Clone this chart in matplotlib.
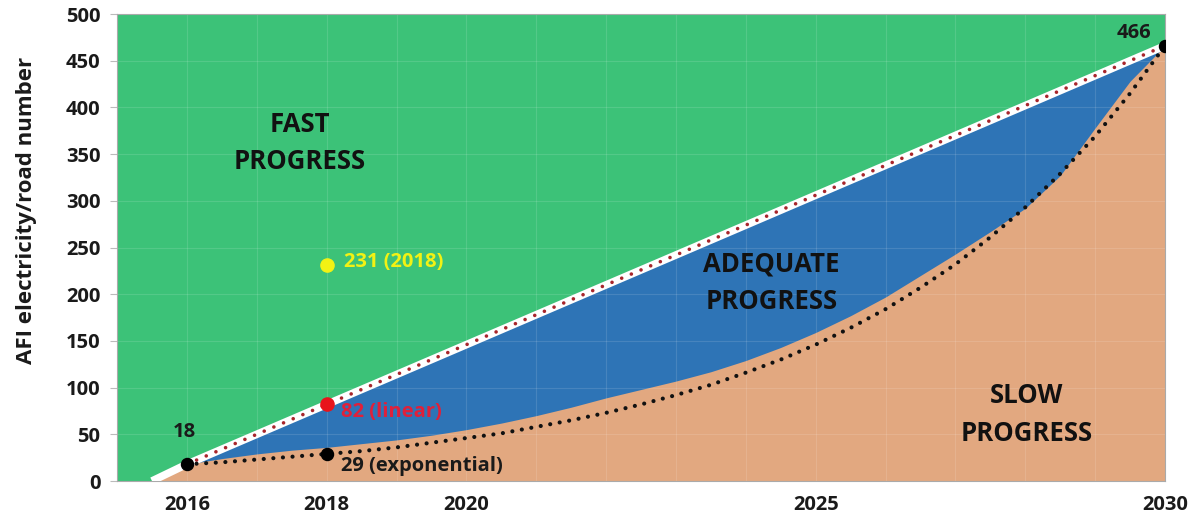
import matplotlib.pyplot as plt

# values (half-year steps)
years = [2016, 2016.5, 2017, 2017.5, 2018, 2018.5, 2019, 2019.5, 2020, 2020.5,
         2021, 2021.5, 2022, 2022.5, 2023, 2023.5, 2024, 2024.5, 2025, 2025.5,
         2026, 2026.5, 2027, 2027.5, 2028, 2028.5, 2029, 2029.5, 2030]
exponential = [18, 20, 23, 26, 29, 32, 36, 41, 46, 51,
               58, 65, 73, 82, 92, 103, 116, 130, 146, 164,
               184, 207, 232, 261, 293, 329, 369, 415, 466]
adequate_low = [18, 24, 29, 33, 36, 40, 44, 49, 55, 62,
                70, 79, 89, 98, 107, 117, 129, 143, 159, 177,
                197, 220, 243, 267, 292, 327, 378, 428, 466]

linear_years = [2015.5, 2016, 2018, 2030]
linear = [0, 18, 82, 466]

actual_year = 2018
actual_value = 231

tick_years = [2016, 2018, 2020, 2025, 2030]
y_ticks = list(range(0, 501, 50))

green = "#3CC278"
blue = "#2E74B6"
beige = "#E2A880"

plt.rcParams["font.family"] = ["Open Sans", "DejaVu Sans"]

fig = plt.figure(figsize=(12.03, 5.19), dpi=100)
ax = fig.add_axes([0.0973, 0.0732, 0.8711, 0.8998])
ax.set_facecolor(green)

# slow region below the linear line, adequate between the curves
ax.fill_between(linear_years, 0, linear, color=beige, lw=0, zorder=1)
lin_at_years = [18 + (466 - 18) * (y - 2016) / 14 for y in years]
ax.fill_between(years, adequate_low, lin_at_years, color=blue, lw=0, zorder=1.2)

# white band + dotted trend lines
ax.plot(linear_years, linear, color="white", lw=5.5, solid_capstyle="butt", zorder=3)
ax.plot(linear_years[1:], linear[1:], color="#A8262C", lw=2.6, ls=(0, (0.01, 2.9)),
        dash_capstyle="round", zorder=4)
ax.plot(years, exponential, color="#111111", lw=3.0, ls=(0, (0.01, 2.3)),
        dash_capstyle="round", zorder=4)

# markers
ax.scatter([2016, 2018, 2030], [18, 29, 466], s=75, color="black", zorder=5)
ax.scatter([2018], [82], s=90, color="#E8141B", zorder=5)
ax.scatter([actual_year], [actual_value], s=90, color="#F2F214", zorder=5)

txt = dict(fontsize=14.5, fontweight="bold")
ax.text(2018.25, 234, "231 (2018)", color="#F2F214", va="center", **txt)
ax.text(2018.2, 74, "82 (linear)", color="#E0203A", va="center", **txt)
ax.text(2018.2, 16, "29 (exponential)", color="#1a1a1a", va="center", **txt)
ax.text(2015.97, 52, "18", color="#1a1a1a", ha="center", va="center", **txt)
ax.text(2029.55, 480, "466", color="#1a1a1a", ha="center", va="center", **txt)

big = dict(fontsize=18.5, fontweight="bold", color="#111111", ha="center",
           va="center", linespacing=1.5)
ax.text(2017.62, 362, "FAST\nPROGRESS", **big)
ax.text(2024.37, 212, "ADEQUATE\nPROGRESS", **big)
ax.text(2028.02, 71, "SLOW\nPROGRESS", **big)

ax.set_xlim(2015, 2030)
ax.set_ylim(0, 500)
ax.set_xticks(range(2015, 2031), minor=True)
ax.set_xticks(tick_years)
ax.set_xticklabels([str(y) for y in tick_years])
ax.set_yticks(y_ticks)
ax.grid(True, which="both", color="white", alpha=0.12, lw=0.8)
ax.tick_params(axis="x", which="both", length=0, pad=10)
ax.tick_params(axis="y", length=5, color="#BBBBBB", pad=7)
for lab in ax.get_xticklabels() + ax.get_yticklabels():
    lab.set_fontsize(14.5)
    lab.set_fontweight("bold")
    lab.set_color("#1a1a1a")

for s in ax.spines.values():
    s.set_color("#AAAAAA")

ax.set_ylabel("AFI electricity/road number", fontsize=16, fontweight="bold",
              color="#1a1a1a")
ax.yaxis.set_label_coords(-0.076, 0.58)

plt.savefig("out.png", dpi=100)
